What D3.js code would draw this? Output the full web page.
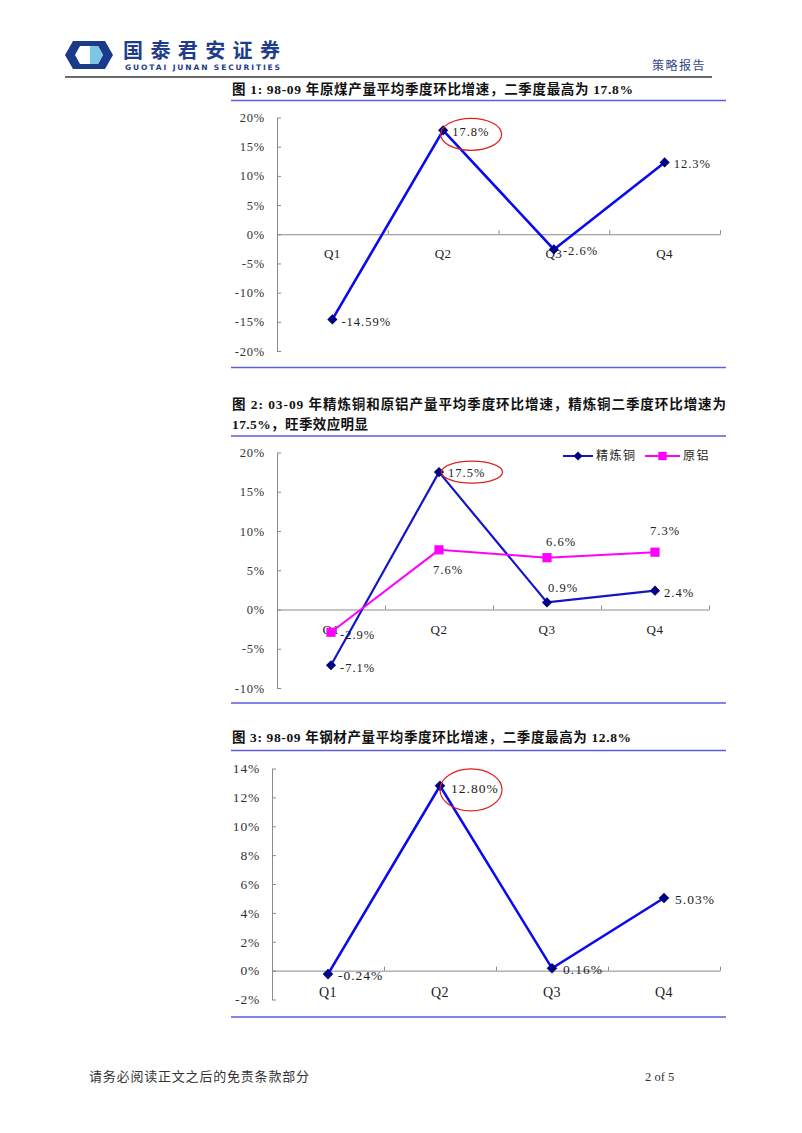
<!DOCTYPE html>
<html>
<head>
<meta charset="utf-8">
<script src="https://cdn.jsdelivr.net/npm/d3@7"></script>
<style>
  body { margin: 0; background: #fff; }
  svg text { font-family: "Liberation Serif", "Noto Sans CJK SC", serif; }
  .cjk { font-family: "Noto Sans CJK SC", sans-serif; }
</style>
</head>
<body>
<svg id="page" width="802" height="1133"></svg>
<script>
// ---- data ----
const quarters = ['Q1', 'Q2', 'Q3', 'Q4'];

const coalGrowth = [-14.59, 17.8, -2.6, 12.3];       // chart 1
const copperGrowth = [-7.1, 17.5, 0.9, 2.4];         // chart 2, 精炼铜
const aluminumGrowth = [-2.9, 7.6, 6.6, 7.3];        // chart 2, 原铝
const steelGrowth = [-0.24, 12.80, 0.16, 5.03];      // chart 3

const coalTicks = [20, 15, 10, 5, 0, -5, -10, -15, -20];
const metalTicks = [20, 15, 10, 5, 0, -5, -10];
const steelTicks = [14, 12, 10, 8, 6, 4, 2, 0, -2];

const seriesNames = ['精炼铜', '原铝'];

const svg = d3.select('#page');
const ruleColor = '#5c5cdc';

// ---- page header ----
const logo = svg.append('g');
logo.append('path')
  .attr('d', 'M65,55 L73,41 L105,41 L113,55 L105,69 L73,69 Z')
  .attr('fill', '#1b3a8a');
logo.append('path')
  .attr('d', 'M75,55 L80,46 L98,46 L103,55 L98,64 L80,64 Z')
  .attr('fill', '#fff');
logo.append('path')
  .attr('d', 'M90,46 L98,46 L103,55 L98,64 L90,64 Z')
  .attr('fill', '#7cc6e6');

svg.append('text')
  .attr('class', 'cjk')
  .attr('x', 123).attr('y', 57.5)
  .attr('font-size', 20).attr('font-weight', 700)
  .attr('fill', '#1e3c8c')
  .attr('textLength', 157)
  .text('国泰君安证券');
svg.append('text')
  .attr('x', 125).attr('y', 70)
  .style('font-family', '"DejaVu Sans", sans-serif')
  .attr('font-size', 7.5).attr('font-weight', 700)
  .attr('fill', '#1e3c8c')
  .attr('textLength', 155)
  .text('GUOTAI JUNAN SECURITIES');
svg.append('text')
  .attr('class', 'cjk')
  .attr('x', 652).attr('y', 70)
  .attr('font-size', 12)
  .attr('fill', '#34448a')
  .attr('letter-spacing', 1.5)
  .text('策略报告');
svg.append('line')
  .attr('x1', 65).attr('x2', 712).attr('y1', 77).attr('y2', 77)
  .attr('stroke', '#6a6a6a').attr('stroke-width', 2);

// ---- titles and rules ----
function title(lines, y0, widths) {
  lines.forEach((t, i) => {
    const txt = svg.append('text')
      .attr('x', 232).attr('y', y0 + i * 20)
      .attr('font-size', 13.5).attr('font-weight', 700)
      .attr('fill', '#111')
      .text(t);
    if (widths[i]) txt.attr('textLength', widths[i]).attr('lengthAdjust', 'spacing');
  });
}
function rule(y) {
  svg.append('line')
    .attr('x1', 231).attr('x2', 726).attr('y1', y).attr('y2', y)
    .attr('stroke', ruleColor).attr('stroke-width', 1.5);
}

title(['图 1: 98-09 年原煤产量平均季度环比增速，二季度最高为 17.8%'], 94, [401]);
rule(100.5);
rule(367.5);

title(['图 2: 03-09 年精炼铜和原铝产量平均季度环比增速，精炼铜二季度环比增速为',
       '17.5%，旺季效应明显'], 409, [494, 136]);
rule(436);
rule(703);

title(['图 3: 98-09 年钢材产量平均季度环比增速，二季度最高为 12.8%'], 742, [399]);
rule(750.5);
rule(1017);

// ---- footer ----
svg.append('text')
  .attr('class', 'cjk')
  .attr('x', 89).attr('y', 1081)
  .attr('font-size', 13).attr('fill', '#333')
  .attr('letter-spacing', 0.8)
  .text('请务必阅读正文之后的免责条款部分');
svg.append('text')
  .attr('x', 645).attr('y', 1081)
  .attr('font-size', 12.5).attr('fill', '#333')
  .text('2 of 5');

// ---- line chart ----
function lineChart(o) {
  const g = svg.append('g').attr('transform', `translate(${o.left},${o.top})`);
  const y = d3.scaleLinear().domain([o.yMin, o.yMax]).range([o.height, 0]);
  const x = d3.scaleBand().domain(quarters).range([0, o.width]);
  const xEdge = d3.scaleLinear().domain([0, quarters.length]).range([0, o.width]);
  const fs = o.fontSize;

  // y axis, ticks pointing inward
  const yAxisG = g.append('g')
    .call(d3.axisLeft(y).tickValues(o.ticks).tickSizeInner(-4).tickSizeOuter(0)
      .tickPadding(12).tickFormat(d => `${d}%`));
  yAxisG.selectAll('path, line').attr('stroke', '#8a8a8a');
  yAxisG.selectAll('text')
    .attr('font-size', fs).attr('fill', '#333').attr('letter-spacing', 0.8)
    .style('font-family', '"Liberation Serif", serif');

  // zero line with category boundary ticks pointing up
  const zeroG = g.append('g')
    .attr('transform', `translate(0,${y(0)})`)
    .call(d3.axisBottom(xEdge).tickValues(d3.range(1, quarters.length + 1))
      .tickSizeInner(-4).tickSizeOuter(0).tickFormat(''));
  zeroG.selectAll('path, line').attr('stroke', '#8a8a8a');

  // category labels under the zero line
  const catG = g.append('g')
    .attr('transform', `translate(0,${y(0)})`)
    .call(d3.axisBottom(x).tickSize(0).tickPadding(o.catPad));
  catG.select('.domain').remove();
  catG.selectAll('text')
    .attr('font-size', fs + 0.5).attr('fill', '#222').attr('letter-spacing', 0.5)
    .style('font-family', '"Liberation Serif", serif');

  const cx = d => x(d) + x.bandwidth() / 2;

  o.series.forEach(s => {
    const pts = quarters.map((q, i) => [cx(q), y(s.values[i])]);
    g.append('path')
      .attr('d', d3.line()(pts))
      .attr('fill', 'none')
      .attr('stroke', s.color)
      .attr('stroke-width', s.width);
    const sym = d3.symbol().type(d3.symbolSquare).size(s.markerSize);
    g.selectAll(null).data(pts).join('path')
      .attr('d', sym)
      .attr('transform', d => `translate(${d[0]},${d[1]}) rotate(${s.rotate})`)
      .attr('fill', s.markerColor);
  });

  // data labels drawn after the lines so they sit on top
  o.series.forEach(s => {
    g.selectAll(null).data(s.values).join('text')
      .attr('x', (v, i) => cx(quarters[i]) + s.labelDx[i])
      .attr('y', (v, i) => y(v) + s.labelDy[i])
      .attr('dy', '0.35em')
      .attr('font-size', fs).attr('fill', '#222').attr('letter-spacing', 1)
      .text(v => `${s.fmt(v)}%`);
  });

  // red ellipse around the Q2 peak label
  const pk = o.series[0];
  g.append('ellipse')
    .attr('cx', cx('Q2') + o.ring.dx)
    .attr('cy', y(pk.values[1]) + o.ring.dy)
    .attr('rx', o.ring.rx).attr('ry', o.ring.ry)
    .attr('fill', 'none').attr('stroke', '#e02020').attr('stroke-width', 1.2);

  return { g, x, y, cx };
}

// chart 1
lineChart({
  left: 277, top: 117.5, width: 443, height: 233.5,
  yMin: -20, yMax: 20, ticks: coalTicks, fontSize: 12.5, catPad: 15,
  ring: { dx: 28, dy: 4, rx: 30.5, ry: 16 },
  series: [{
    values: coalGrowth, color: '#0a0af0', width: 2.6,
    markerColor: '#000080', markerSize: 52, rotate: 45,
    fmt: v => String(v),
    labelDx: [9, 9, 9, 9], labelDy: [2, 1, 1, 1]
  }]
});

// chart 2
lineChart({
  left: 277, top: 452.5, width: 432, height: 235.5,
  yMin: -10, yMax: 20, ticks: metalTicks, fontSize: 12.5, catPad: 15,
  ring: { dx: 33, dy: 0, rx: 30.5, ry: 11 },
  series: [{
    values: copperGrowth, color: '#1414c8', width: 2.2,
    markerColor: '#000080', markerSize: 52, rotate: 45,
    fmt: v => v.toFixed(1),
    labelDx: [9, 9, 1, 9], labelDy: [2, 0, -15, 2]
  }, {
    values: aluminumGrowth, color: '#ff00ff', width: 2,
    markerColor: '#ff00ff', markerSize: 85, rotate: 0,
    fmt: v => v.toFixed(1),
    labelDx: [9, -6, -1, -5], labelDy: [2, 20, -16, -22]
  }]
});

// legend for chart 2
const legendItems = [
  { name: seriesNames[0], color: '#1414c8', marker: '#000080', size: 40, rotate: 45, x0: 563, x1: 593 },
  { name: seriesNames[1], color: '#ff00ff', marker: '#ff00ff', size: 70, rotate: 0, x0: 645, x1: 680 }
];
const lg = svg.append('g');
legendItems.forEach(it => {
  lg.append('line')
    .attr('x1', it.x0).attr('x2', it.x1).attr('y1', 456).attr('y2', 456)
    .attr('stroke', it.color).attr('stroke-width', 2);
  lg.append('path')
    .attr('d', d3.symbol().type(d3.symbolSquare).size(it.size))
    .attr('transform', `translate(${(it.x0 + it.x1) / 2},456) rotate(${it.rotate})`)
    .attr('fill', it.marker);
  lg.append('text')
    .attr('class', 'cjk')
    .attr('x', it.x1 + 3).attr('y', 456).attr('dy', '0.35em')
    .attr('font-size', 12).attr('fill', '#222').attr('letter-spacing', 1.5)
    .text(it.name);
});

// chart 3
lineChart({
  left: 272, top: 768.5, width: 448, height: 231,
  yMin: -2, yMax: 14, ticks: steelTicks, fontSize: 13.5, catPad: 16,
  ring: { dx: 31, dy: 4, rx: 31, ry: 21 },
  series: [{
    values: steelGrowth, color: '#0a0af0', width: 2.6,
    markerColor: '#000080', markerSize: 56, rotate: 45,
    fmt: v => v.toFixed(2),
    labelDx: [10, 11, 11, 11], labelDy: [1, 2, 1, 1]
  }]
});
</script>
</body>
</html>
